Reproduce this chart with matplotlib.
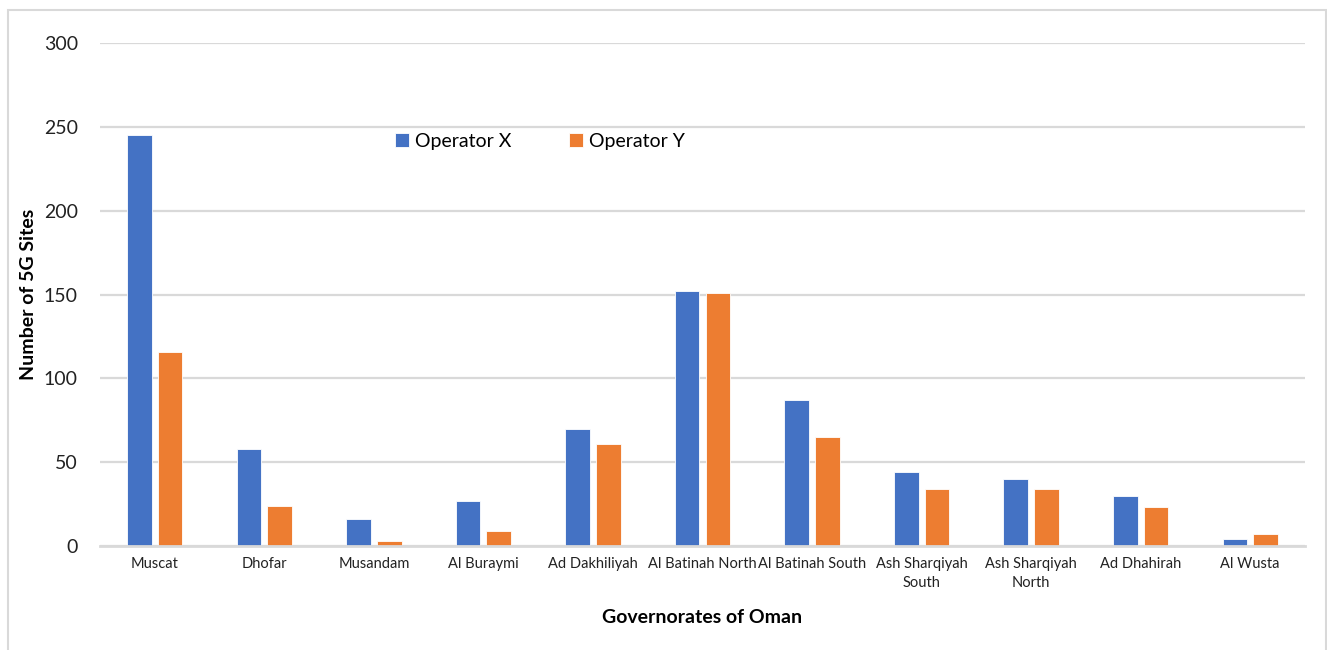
import matplotlib.pyplot as plt
import matplotlib.patches as patches
import numpy as np

plt.rcParams['font.family'] = ['Lato', 'DejaVu Sans']

governorates = ['Muscat', 'Dhofar', 'Musandam', 'Al Buraymi', 'Ad Dakhiliyah',
                'Al Batinah North', 'Al Batinah South', 'Ash Sharqiyah\nSouth',
                'Ash Sharqiyah\nNorth', 'Ad Dhahirah', 'Al Wusta']
operator_x = [245, 58, 16, 27, 70, 152, 87, 44, 40, 30, 4]
operator_y = [116, 24, 3, 9, 61, 151, 65, 34, 34, 23, 7]

blue = '#4472C4'
orange = '#ED7D31'
grid_grey = '#D9D9D9'

fig = plt.figure(figsize=(13.27, 6.5), dpi=100)

# light border around the whole chart area
fig.patches.append(patches.Rectangle((8 / 1327, -0.1), (1326 - 8) / 1327, 1 - 10 / 650 + 0.1,
                                     transform=fig.transFigure, fill=False,
                                     edgecolor=grid_grey, linewidth=1.5))

ax = fig.add_axes([100 / 1327, 1 - 546 / 650, 1205 / 1327, (546 - 43) / 650])

x = np.arange(len(governorates))
width = 0.225
ax.bar(x - 0.14, operator_x, width, color=blue, edgecolor='white', linewidth=0.6,
       label='Operator X', zorder=3)
ax.bar(x + 0.14, operator_y, width, color=orange, edgecolor='white', linewidth=0.6,
       label='Operator Y', zorder=3)

ax.set_xlim(-0.5, len(governorates) - 0.5)
ax.set_ylim(0, 300)
ax.set_yticks(np.arange(0, 301, 50))
ax.set_xticks(x)
ax.set_xticklabels(governorates, fontsize=10.5, color='#222222', linespacing=1.45)
ax.tick_params(axis='y', labelsize=14, length=0, pad=16, colors='#222222')
ax.tick_params(axis='x', length=0, pad=8)

ax.grid(axis='y', color=grid_grey, linewidth=1.6, zorder=0)
for side in ['top', 'right', 'left']:
    ax.spines[side].set_visible(False)
ax.spines['bottom'].set_color(grid_grey)
ax.spines['bottom'].set_linewidth(2)
ax.spines['bottom'].set_zorder(4)

ax.set_xlabel('Governorates of Oman', fontsize=14, fontweight='bold')
ax.set_ylabel('Number of 5G Sites', fontsize=14, fontweight='bold')
ax.xaxis.set_label_coords(0.5, -0.125)
ax.yaxis.set_label_coords(-0.052, 0.5)

ax.legend(loc='center', bbox_to_anchor=(0.365, 0.805), ncol=2, frameon=False,
          fontsize=14, handlelength=0.7, handleheight=0.7, handletextpad=0.3,
          columnspacing=3.0)

fig.savefig('out.png', dpi=100, facecolor='white')
